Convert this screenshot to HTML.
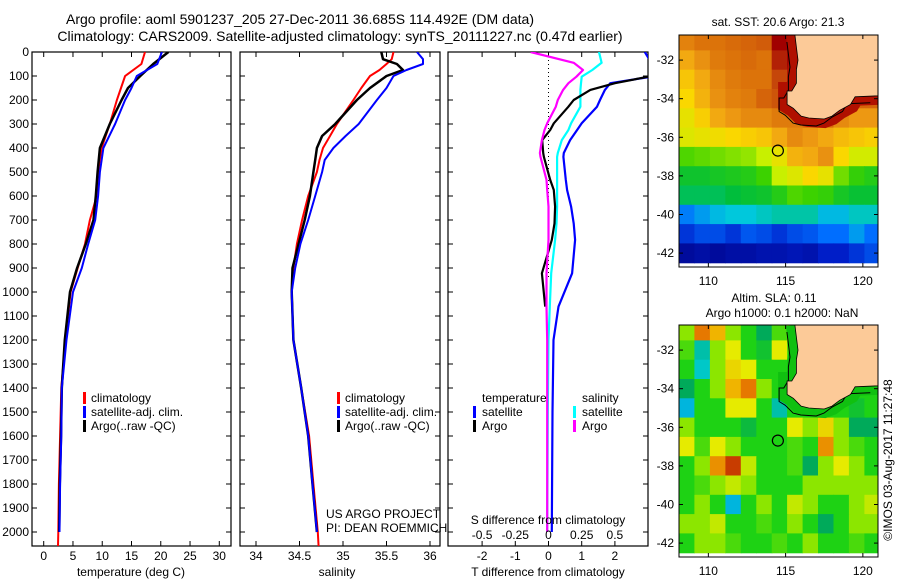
<!DOCTYPE html>
<html><head><meta charset="utf-8">
<style>
html,body{margin:0;padding:0;background:#fff;}
svg{display:block;font-family:"Liberation Sans",sans-serif;}
text{fill:#000;}
</style></head>
<body>
<svg id="fig" width="900" height="580" viewBox="0 0 900 580" xmlns="http://www.w3.org/2000/svg">
<defs>
<clipPath id="c1"><rect x="32" y="52" width="199" height="494"/></clipPath>
<clipPath id="c2"><rect x="240" y="52" width="200" height="494"/></clipPath>
<clipPath id="c3"><rect x="448" y="52" width="200" height="494"/></clipPath>
<clipPath id="cm1"><rect x="679" y="35" width="199" height="232"/></clipPath>
<clipPath id="cm2"><rect x="679" y="325" width="199" height="232"/></clipPath>
</defs>
<text x="300" y="24" font-size="14" text-anchor="middle">Argo profile: aoml 5901237_205 27-Dec-2011 36.685S 114.492E (DM data)</text>
<text x="340" y="41" font-size="14" text-anchor="middle">Climatology: CARS2009. Satellite-adjusted climatology: synTS_20111227.nc (0.47d earlier)</text>
<g id="plots"></g>
</svg>
<script>
// ---------- data ----------
const tDepths = [0,50,100,150,200,300,400,500,600,700,800,900,1000,1200,1400,1600,1800,2000,2060];
const tClim = [17.3,16.7,13.9,13.2,12.5,11.3,9.9,9.3,9.05,7.9,7.06,5.8,4.6,3.7,3.0,2.8,2.6,2.5,2.45];
const tSat = [20.2,19.4,15.9,15.0,13.9,12.2,10.2,9.6,9.3,8.8,7.6,6.5,5.0,3.9,3.1,3.0,2.8,2.7];
const tArgo = [21.3,18.7,16.5,14.4,13.3,11.3,9.6,9.2,8.9,8.5,7.2,5.7,4.5,3.6,3.1,2.95,2.75,2.65];
const sDepths = [0,30,50,75,100,150,200,300,350,400,450,500,600,700,800,900,1000,1200,1400,1600,1800,2000,2060];
const sClim = [35.58,35.56,35.50,35.42,35.31,35.21,35.12,34.93,34.85,34.77,34.73,34.70,34.60,34.53,34.47,34.43,34.41,34.43,34.52,34.61,34.66,34.71,34.72];
const sSat = [35.85,35.92,35.92,35.73,35.58,35.50,35.39,35.18,35.03,34.89,34.79,34.76,34.68,34.60,34.51,34.45,34.41,34.43,34.52,34.60,34.65,34.70];
const sArgo = [35.44,35.46,35.62,35.69,35.50,35.31,35.16,34.91,34.76,34.70,34.68,34.66,34.62,34.56,34.49,34.42,34.41,34.43,34.52,34.60,34.65,34.70];
const dDepths = [0,45,75,103,130,158,200,228,297,325,367,421,437,533,575,644,714,783,922,1061,1200,1500,2000];
const dTSat = [2.9,3.1,3.2,3.1,1.86,1.7,1.55,1.46,1.0,0.86,0.65,0.46,0.45,0.52,0.56,0.68,0.76,0.8,0.71,0.3,0.15,0.12,0.1];
const dTArgo = [4.0,3.8,3.5,3.0,2.0,1.26,0.76,0.6,0.16,0.05,-0.19,-0.16,-0.14,0.05,0.16,0.2,0.18,0.1,-0.2,-0.1];
const dSArgo = [-0.135,0.19,0.26,0.21,0.15,0.11,0.07,0.055,-0.01,-0.03,-0.05,-0.065,-0.06,-0.015,-0.01,0,0,0,-0.015,-0.015,-0.01,-0.01,-0.01];
const dSSat = [0.38,0.40,0.33,0.25,0.245,0.24,0.24,0.24,0.17,0.15,0.10,0.07,0.065,0.065,0.065,0.065,0.06,0.05,0.02,0.01,0.0,-0.005,-0.01];
const depthTicks = [0,100,200,300,400,500,600,700,800,900,1000,1100,1200,1300,1400,1500,1600,1700,1800,1900,2000];
const tTicks = [0,5,10,15,20,25,30];
const sTicks = [34,34.5,35,35.5,36];
const dTTicks = [-2,-1,0,1,2];
const dSTicks = [-0.5,-0.25,0,0.25,0.5];
const dSTickLabels = ["-0.5","-0.25","0","0.25","0.5"];
// SST map grid: rows lat -31..-42, cols lon 108.6..120.6
const sstLats = [-31,-32,-33,-34,-35,-36,-37,-38,-39,-40,-41,-42];
const sstLons = [108.6,109.6,110.6,111.6,112.6,113.6,114.6,115.6,116.6,117.6,118.6,119.6,120.6];
const sst = [
[20.8,21.0,21.0,21.1,21.2,21.3,22.3,22.3,22.5,22.5,22.5,22.5,22.5],
[20.3,20.6,20.9,21.0,21.1,21.0,22.0,22.3,22.3,22.3,22.3,22.3,22.3],
[20.0,20.3,20.7,20.9,21.0,21.0,21.6,22.0,22.0,22.0,22.0,22.0,22.0],
[19.8,20.2,20.6,20.8,20.9,21.2,21.4,21.6,21.8,21.5,21.3,21.2,21.2],
[19.6,19.9,20.3,20.5,20.7,20.7,20.9,20.9,21.2,21.1,20.7,20.5,20.5],
[19.5,19.6,19.7,19.8,19.9,20.0,20.3,20.7,20.5,20.3,20.1,20.0,19.9],
[18.6,18.7,18.8,18.9,19.0,19.3,19.6,20.2,20.3,20.6,19.8,19.4,19.4],
[17.9,17.9,18.0,18.1,18.2,18.5,19.3,19.5,19.8,19.6,18.8,18.4,18.2],
[17.6,17.6,17.6,17.7,17.8,17.9,18.2,18.6,18.5,18.4,18.0,17.8,17.8],
[16.6,16.8,17.0,17.1,17.1,17.2,17.3,17.3,17.3,17.0,17.0,17.2,17.2],
[16.0,16.2,16.2,16.0,16.3,16.2,16.0,16.2,16.3,16.5,16.5,16.8,16.5],
[15.3,15.4,15.3,15.4,15.4,15.5,15.5,15.6,15.5,15.8,15.8,16.0,16.2]];
const sla = [
[0.05,0.2,0.15,0.05,0,-0.05,0.02,0.05,0,0,0,0,0],
[0.02,-0.1,0.05,0.1,0,-0.02,0.1,0.02,0,0,0,0,0],
[0,-0.12,0.05,0.12,0.1,0,0,0,0,0,0,0,0],
[-0.05,0,0.05,0.15,0.2,0.05,0,0.02,0,0,0,0,0],
[-0.15,0,0,0.1,0.1,0,-0.1,0,0,0,0,-0.02,0],
[0.05,0,0,0,-0.03,0,0,0.1,0.05,0.12,0.05,-0.05,-0.05],
[0.1,0.02,0.1,0.05,0,0,0,0.02,0,0.18,0.05,0.02,0],
[0,0.05,0.18,0.25,0.08,0,0,0.02,-0.05,0.05,0.1,0.05,0],
[0,0.02,0.05,0.08,0.05,0,0,0,0.05,0.05,0.05,0.05,0.05],
[0,0.05,0,-0.15,0,0.05,0,0.08,0.05,0,0,0.05,0.08],
[0.05,0.05,0.08,0,0,0.02,0,0.05,0,-0.05,0,0.05,0.05],
[0,0.05,0.05,0.02,0,0,0.02,0,0.05,0,0,0.02,0]];
const coastLon = [115.6,115.8,115.7,115.7,115.4,115.1,115.1,115.5,116.0,116.5,117.5,118.0,118.5,119.2,119.5,121.0];
const coastLat = [-30.7,-32.0,-32.5,-33.2,-33.6,-33.6,-34.3,-34.5,-34.9,-35.0,-35.05,-34.9,-34.6,-34.3,-33.9,-33.85];
const argoLon = 114.5, argoLat = -36.69;
const latTicks = [-32,-34,-36,-38,-40,-42];
const lonTicks = [110,115,120];
// colour scales (style, not data)
const sstStops = [[15,[0,0,130]],[15.8,[0,30,200]],[16.5,[0,110,255]],[17.1,[0,200,220]],[17.7,[0,190,60]],[18.5,[60,210,0]],[19.3,[200,240,0]],[19.8,[250,215,0]],[20.4,[240,160,20]],[21.0,[220,115,10]],[21.8,[190,55,10]],[22.3,[160,0,0]]];
const slaStops = [[-0.2,[0,150,255]],[-0.12,[0,200,200]],[-0.05,[0,170,90]],[0,[30,210,20]],[0.05,[140,230,0]],[0.1,[230,235,0]],[0.15,[240,180,0]],[0.2,[230,120,0]],[0.25,[200,60,0]]];

// ---------- helpers ----------
const NS = "http://www.w3.org/2000/svg";
const root = document.getElementById('plots');
function el(tag, attrs, parent){ const e=document.createElementNS(NS,tag); for(const k in attrs) e.setAttribute(k,attrs[k]); (parent||root).appendChild(e); return e; }
const Y = d => 52 + d*0.24;
const X1 = t => 32 + (t+2)*199/34;
const X2 = s => 256 + (s-34)*87;
const X3 = v => 548.5 + v*33.2;
const X3S = v => 548.5 + v*4*33.2;
const PB = 546;

function panel(x0,x1,name){
  const r = el('rect',{x:x0,y:52,width:x1-x0,height:PB-52,fill:'none',stroke:'#000','stroke-width':1.2});
  
  
  depthTicks.forEach(d=>{
    const y=Y(d);
    const t1=el('line',{x1:x0,x2:x0+5,y1:y,y2:y,stroke:'#000'});
    
    
    const t2=el('line',{x1:x1-5,x2:x1,y1:y,y2:y,stroke:'#000'});
    
    
  });
}
function xticks(vals,fx,labels,name){
  vals.forEach((v,i)=>{
    const x=fx(v);
    const a=el('line',{x1:x,x2:x,y1:52,y2:57,stroke:'#000'});
    
    
    const b=el('line',{x1:x,x2:x,y1:PB-5,y2:PB,stroke:'#000'});
    
    
    const t=el('text',{x:x,y:560,'font-size':12,'text-anchor':'middle'});
    t.textContent = labels ? labels[i] : String(v);
    
    
  });
}
function line(xs,ds,fx,color,w,clip,name){
  const pts = xs.map((v,i)=>fx(v).toFixed(1)+','+Y(ds[i]).toFixed(1)).join(' ');
  const p=el('polyline',{points:pts,fill:'none',stroke:color,'stroke-width':w,'stroke-linejoin':'round','clip-path':'url(#'+clip+')'});
  
  
}
function txt(x,y,s,size,name,anchor){
  const t=el('text',{x:x,y:y,'font-size':size||12,'text-anchor':anchor||'start'});
  t.textContent=s;
  
  
  return t;
}
function legBar(x,y,color){
  const b=el('rect',{x:x,y:y-10,width:3,height:12,fill:color});
  
  
}

depthTicks.forEach(d=>{ txt(29,Y(d)+4,String(d),12,'depth-tick-label','end'); });

// Panel 1 temperature
panel(32,231,'temperature-panel');
xticks(tTicks,X1,null,'temperature-axis');
txt(131,576,'temperature (deg C)',12,'temperature-axis-title','middle');
line(tClim,tDepths,X1,'#f00',2,'c1','temperature-climatology-line');
line(tArgo,tDepths,X1,'#000',2.5,'c1','temperature-argo-line');
line(tSat,tDepths,X1,'#00f',2,'c1','temperature-satellite-line');
legBar(83,402,'#f00'); txt(91,402,'climatology',12,'legend-climatology');
legBar(83,416,'#00f'); txt(91,416,'satellite-adj. clim.',12,'legend-satellite');
legBar(83,430,'#000'); txt(91,430,'Argo(..raw -QC)',12,'legend-argo');

// Panel 2 salinity
panel(240,440,'salinity-panel');
xticks(sTicks,X2,null,'salinity-axis');
txt(337,576,'salinity',12,'salinity-axis-title','middle');
line(sClim,sDepths,X2,'#f00',2,'c2','salinity-climatology-line');
line(sArgo,sDepths,X2,'#000',2.5,'c2','salinity-argo-line');
line(sSat,sDepths,X2,'#00f',2,'c2','salinity-satellite-line');
legBar(337,402,'#f00'); txt(345,402,'climatology',12,'legend-climatology');
legBar(337,416,'#00f'); txt(345,416,'satellite-adj. clim.',12,'legend-satellite');
legBar(337,430,'#000'); txt(345,430,'Argo(..raw -QC)',12,'legend-argo');
txt(326,518,'US ARGO PROJECT',12,'project-credit');
txt(326,532,'PI: DEAN ROEMMICH',12,'pi-credit');

// Panel 3 differences
panel(448,648,'difference-panel');
xticks(dTTicks,X3,null,'t-difference-axis');
txt(548,576,'T difference from climatology',12,'t-difference-axis-title','middle');
const z=el('line',{x1:X3(0),x2:X3(0),y1:52,y2:Y(950),stroke:'#000','stroke-dasharray':'1,3'});


line(dTSat,dDepths,X3,'#00f',2.2,'c3','t-diff-satellite-line');
line(dSSat,dDepths,X3S,'#0ff',2.2,'c3','s-diff-satellite-line');
line(dTArgo,dDepths.slice(0,dTArgo.length),X3,'#000',2.2,'c3','t-diff-argo-line');
line(dSArgo,dDepths,X3S,'#f0f',2.2,'c3','s-diff-argo-line');
txt(548,524,'S difference from climatology',12,'s-difference-axis-title','middle');
dSTicks.forEach((v,i)=>{ txt(X3S(v),539,dSTickLabels[i],12,'s-difference-tick-label','middle'); });
txt(482,402,'temperature',12,'legend-temperature-header');
txt(582,402,'salinity',12,'legend-salinity-header');
legBar(473,416,'#00f'); txt(482,416,'satellite',12,'legend-t-satellite');
legBar(473,430,'#000'); txt(482,430,'Argo',12,'legend-t-argo');
legBar(573,416,'#0ff'); txt(582,416,'satellite',12,'legend-s-satellite');
legBar(573,430,'#f0f'); txt(582,430,'Argo',12,'legend-s-argo');

// ---------- maps ----------
function cmap(stops,v){
  if(v<=stops[0][0]) return 'rgb('+stops[0][1].join(',')+')';
  for(let i=1;i<stops.length;i++){
    if(v<=stops[i][0]){
      const a=stops[i-1], b=stops[i], f=(v-a[0])/(b[0]-a[0]);
      return 'rgb('+a[1].map((c,k)=>Math.round(c+(b[1][k]-c)*f)).join(',')+')';
    }
  }
  return 'rgb('+stops[stops.length-1][1].join(',')+')';
}
function drawMap(y0,grid,stops,shelf,clip,name){
  const MX = lon => 679 + (lon-108.1)*15.45;
  const MY = lat => y0 + (-30.7-lat)*19.3;
  const cw=15.45, ch=19.3;
  grid.forEach((row,i)=>row.forEach((v,j)=>{
    const c=el('rect',{x:(MX(sstLons[j])-cw/2).toFixed(1),y:(MY(sstLats[i])-ch/2).toFixed(1),width:cw+0.6,height:ch+0.6,fill:cmap(stops,v),'clip-path':'url(#'+clip+')'});
    
    
  }));
  const coastPts = coastLon.map((lo,i)=>MX(lo).toFixed(1)+','+MY(coastLat[i]).toFixed(1));
  const shelfP=el('polyline',{points:coastPts.join(' '),fill:'none',stroke:shelf,'stroke-width':18,'clip-path':'url(#'+clip+')'});
  
  
  const iso=el('polyline',{points:coastLon.map((lo,i)=>(MX(lo)-8).toFixed(1)+','+(MY(coastLat[i])+7).toFixed(1)).join(' '),fill:'none',stroke:'#000','stroke-width':1,'clip-path':'url(#'+clip+')'});
  
  
  const landPts = coastPts.slice();
  landPts.push(MX(121.2)+','+MY(-30.5));
  const land=el('polygon',{points:landPts.join(' '),fill:'#fcca98',stroke:'#000','stroke-width':0.8,'clip-path':'url(#'+clip+')'});
  
  
  const c=el('circle',{cx:MX(argoLon),cy:MY(argoLat),r:5.5,fill:'none',stroke:'#000','stroke-width':1.2});
  
  
  const fr=el('rect',{x:679,y:y0,width:199,height:232,fill:'none',stroke:'#000'});
  
  
  latTicks.forEach(l=>{
    const y=MY(l);
    const a=el('line',{x1:679,x2:683,y1:y,y2:y,stroke:'#000'});
    
    
    const b=el('line',{x1:874,x2:878,y1:y,y2:y,stroke:'#000'});
    
    
    txt(674,y+4,String(l),12,'lat-tick-label','end');
  });
  lonTicks.forEach(l=>{
    const x=MX(l);
    const a=el('line',{x1:x,x2:x,y1:y0,y2:y0+4,stroke:'#000'});
    
    
    const b=el('line',{x1:x,x2:x,y1:y0+228,y2:y0+232,stroke:'#000'});
    
    
    txt(x,y0+250,String(l),12,'lon-tick-label','middle');
  });
}
drawMap(35,sst,sstStops,'#b01000','cm1','sst-map');
drawMap(325,sla,slaStops,'#10c010','cm2','sla-map');
txt(778,26,'sat. SST: 20.6 Argo: 21.3',12,'sst-map-title','middle');
txt(774,302,'Altim. SLA: 0.11',12,'sla-map-title','middle');
txt(782,317,'Argo h1000: 0.1 h2000: NaN',12,'sla-map-subtitle','middle');
const cr=txt(0,0,'\u00a9IMOS 03-Aug-2017 11:27:48',12,'imos-timestamp','middle');
cr.setAttribute('transform','translate(892,460) rotate(-90)');
</script>
</body></html>
